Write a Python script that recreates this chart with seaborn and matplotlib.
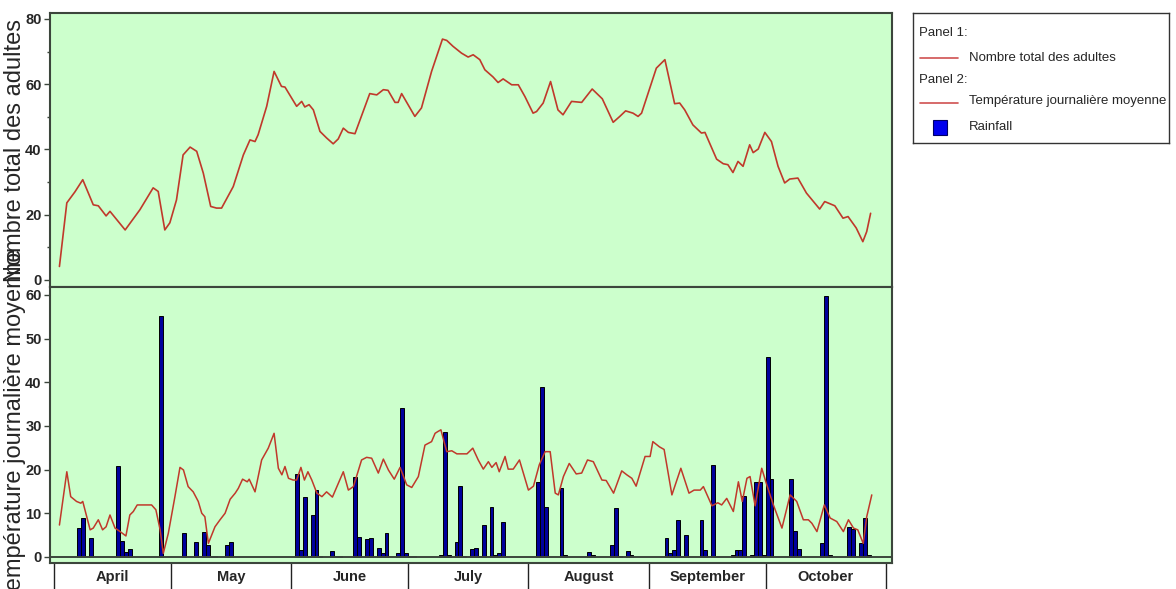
import matplotlib
matplotlib.use("Agg")
import matplotlib.pyplot as plt
from matplotlib import font_manager
from matplotlib.patches import Rectangle
import numpy as np
import seaborn as sns

# x axis: days counted from 1 April
months = ["April", "May", "June", "July", "August", "September", "October"]
month_len = [30, 31, 30, 31, 31, 30, 31]

# panel 1: total adults
adult_day = [1.4, 3.3, 5.4, 7.4, 10.1, 11.4, 13.4, 14.4, 18.3, 22.1, 25.5, 26.8, 28.5,
             29.8, 31.5, 33.2, 35.0, 36.7, 38.4, 40.3, 41.8, 43.1, 46.1, 48.7, 50.4,
             51.7, 52.5, 54.7, 56.6, 58.5, 59.4, 62.4, 63.7, 64.5, 65.6, 66.7, 68.4,
             70.1, 71.8, 73.1, 74.4, 75.7, 77.4, 81.2, 83.0, 84.7, 85.9, 87.7, 88.5,
             89.4, 92.8, 94.5, 97.1, 99.9, 101.0, 102.6, 104.8, 106.5, 107.8, 109.5,
             110.8, 112.9, 114.2, 115.5, 117.7, 119.4, 121.1, 123.2, 124.1, 125.8,
             127.7, 129.6, 130.9, 133.1, 135.7, 138.4, 141.0, 143.8, 145.5, 147.0,
             148.9, 150.2, 151.1, 154.9, 157.1, 159.6, 160.9, 162.2, 164.3, 166.5,
             167.4, 170.4, 172.1, 173.3, 174.6, 175.9, 177.2, 178.9, 179.8, 181.1,
             182.8, 184.5, 186.2, 187.9, 189.2, 191.3, 193.5, 196.9, 198.2, 200.8,
             202.9, 204.2, 206.3, 208.0, 209.0, 210.0]
adult_count = [4.1, 23.6, 27.0, 30.7, 23.0, 22.7, 19.6, 21.0, 15.3, 21.5, 28.2, 27.1, 15.3,
               17.5, 24.5, 38.3, 40.7, 39.4, 32.7, 22.5, 22.0, 22.0, 28.6, 38.3, 42.9,
               42.4, 44.5, 53.2, 63.9, 59.3, 59.1, 53.2, 54.7, 53.0, 53.7, 52.1, 45.5,
               43.5, 41.7, 43.2, 46.5, 45.2, 44.8, 57.1, 56.7, 58.3, 58.1, 54.4, 54.4,
               57.1, 50.1, 52.7, 63.9, 73.8, 73.4, 71.6, 69.5, 68.3, 69.0, 67.5,
               64.4, 62.2, 60.5, 61.6, 59.8, 59.8, 56.2, 51.1, 51.6, 54.2,
               60.8, 52.1, 50.6, 54.7, 54.4, 58.5, 55.5, 48.3, 50.1, 51.8,
               51.1, 50.1, 51.1, 64.9, 67.5, 54.0, 54.2, 52.1, 47.5, 45.0,
               45.2, 37.0, 35.6, 35.3, 32.9, 36.3, 34.8, 41.4, 39.0, 40.1,
               45.2, 42.4, 34.8, 29.7, 30.9, 31.2, 26.6, 21.7, 24.0, 22.7,
               18.9, 19.4, 15.9, 11.7, 14.8, 20.4]

# panel 2: mean daily temperature
temp_day = [1.4, 3.3, 4.3, 5.8, 6.9, 7.4, 9.3, 10.1, 11.4, 12.5, 13.4, 14.4, 15.7, 17.0,
            18.5, 19.5, 20.4, 21.4, 25.1, 26.2, 27.3, 28.1, 29.4, 31.1, 32.4, 33.3,
            34.5, 35.8, 37.1, 38.0, 38.8, 39.7, 41.4, 42.7, 44.0, 45.3, 46.6, 47.4,
            48.5, 49.7, 50.2, 51.7, 53.4, 55.1, 56.6, 57.7, 58.6, 59.4, 60.3, 61.5,
            62.4, 63.5, 64.4, 65.3, 66.3, 67.6, 68.9, 70.1, 71.6, 74.4, 75.7, 77.0,
            79.1, 80.4, 81.7, 83.4, 84.7, 86.0, 87.5, 89.0, 90.7, 92.0, 93.7, 95.4,
            97.1, 98.0, 98.7, 99.5, 101.0, 102.3, 103.6, 106.2, 107.7, 109.1, 110.4,
            111.7, 112.6, 113.7, 114.5, 116.0, 116.8, 118.1, 119.7, 122.0, 123.3,
            124.8, 126.3, 127.6, 128.9, 129.7, 131.0, 132.5, 134.3, 135.7, 137.2,
            138.7, 140.9, 142.0, 143.9, 146.0, 147.3, 148.6, 149.7, 152.0, 153.3,
            154.0, 155.7, 156.9, 158.9, 161.2, 163.3, 164.6, 166.2, 167.0, 169.2,
            170.7, 171.7, 173.0, 174.7, 176.0, 177.0, 178.2, 179.0, 180.3, 182.0,
            183.3, 185.0, 187.2, 189.3, 191.0, 192.7, 194.0, 194.9, 196.2, 198.1,
            199.6, 201.3, 203.0, 204.3, 205.6, 206.7, 208.1, 209.0, 210.3]
temp_c = [7.3, 19.5, 13.8, 12.7, 12.3, 12.7, 6.2, 6.6, 8.5, 6.2, 6.9, 9.6, 6.6, 5.8,
          4.8, 9.6, 10.4, 11.9, 11.9, 10.8, 6.2, 0.8, 5.4, 13.8, 20.5, 19.9,
          16.1, 14.9, 12.7, 10.0, 9.2, 3.1, 6.9, 8.5, 10.0, 13.2, 14.6, 15.7,
          17.8, 17.2, 17.8, 14.9, 22.2, 24.9, 28.3, 20.3, 18.8, 20.7, 18.0, 17.6,
          17.6, 20.5, 17.6, 19.5, 17.6, 14.6, 13.8, 14.9, 13.7, 19.5, 15.3, 16.1,
          22.2, 22.8, 22.6, 19.2, 22.4, 19.9, 17.8, 20.5, 16.5, 15.9, 18.4, 25.6,
          26.4, 28.3, 28.7, 29.1, 24.1, 24.3, 23.6, 23.6, 24.9, 22.2, 20.1,
          21.8, 20.5, 21.6, 19.5, 23.0, 20.1, 20.1, 22.2, 15.3, 16.2,
          21.1, 24.1, 24.1, 14.6, 14.2, 18.4, 21.4, 19.0, 19.2, 22.2,
          21.8, 17.6, 17.5, 14.6, 19.7, 18.8, 18.0, 16.2, 23.0, 23.0,
          26.4, 25.2, 24.6, 14.2, 20.3, 14.6, 15.3, 15.3, 16.1, 11.7,
          12.4, 11.9, 13.4, 10.4, 17.2, 12.7, 18.0, 18.4, 11.7, 20.3,
          16.5, 11.9, 6.6, 14.2, 12.7, 8.5, 8.5, 7.7, 5.8, 11.9,
          8.9, 8.1, 5.8, 8.5, 6.6, 6.2, 3.1, 9.2, 14.2]

# panel 2: daily rainfall (day index, 0 = 1 April)
rain_day = [6, 7, 9, 16, 17, 18, 19, 27, 33, 36, 38, 39, 40, 41, 44, 45,
            62, 63, 64, 65, 66, 67, 68, 71, 72, 73, 77, 78, 80, 81, 83, 84, 85,
            88, 89, 90, 91, 92, 99, 100, 101, 103, 104, 105, 107, 108, 109, 110,
            112, 113, 114, 115, 124, 125, 126, 130, 131, 137, 138, 143, 144, 145,
            147, 148, 157, 158, 159, 160, 161, 162, 166, 167, 169, 170, 174, 175,
            176, 177, 179, 180, 181, 182, 183, 184, 189, 190, 191, 197, 198, 199,
            204, 205, 207, 208, 209]
rain_mm = [6.6, 8.9, 4.3, 20.8, 3.7, 1.2, 1.8, 55.2, 5.4, 3.4, 5.6, 2.7, 0.3, 0.3, 2.7, 3.4,
           18.9, 1.6, 13.8, 0.3, 9.6, 15.3, 0.3, 1.4, 0.3, 0.3, 18.2, 4.6, 4.0, 4.4, 2.1, 0.8, 5.4,
           1.0, 34.0, 1.0, 0.3, 0.3, 0.5, 28.5, 0.5, 3.4, 16.2, 0.3, 1.8, 2.1, 0.3, 7.3,
           11.5, 0.5, 1.0, 7.9, 17.2, 38.8, 11.5, 15.7, 0.4, 1.1, 0.4, 2.7, 11.1, 0.3,
           1.4, 0.4, 4.3, 1.0, 1.6, 8.5, 0.3, 5.0, 8.5, 1.6, 21.1, 0.3, 0.4, 1.6,
           1.6, 14.0, 0.4, 17.2, 17.2, 0.4, 45.8, 17.8, 17.8, 6.0, 1.8, 3.1, 59.8, 0.4,
           6.9, 6.3, 3.1, 8.9, 0.4]

bg = "#ccffcc"
line_col = "#c0392b"
bar_col = "#00009c"
frame_col = "#3c463c"

sns.set_theme(style="ticks")
names = {f.name for f in font_manager.fontManager.ttflist}
narrow = "Liberation Sans Narrow" in names
plt.rcParams["font.family"] = ["Liberation Sans Narrow" if narrow else "Liberation Sans", "DejaVu Sans"]
tick_size = 12 if narrow else 10.5
leg_size = 11.5 if narrow else 9.5

fig = plt.figure(figsize=(11.76, 5.89), dpi=100)
ax1 = fig.add_axes([0.0425, 0.5127, 0.716, 0.4652])
ax2 = fig.add_axes([0.0425, 0.0441, 0.716, 0.4686])

edges = np.concatenate([[0], np.cumsum(month_len)])
mids = edges[:-1] + np.array(month_len) / 2

# panel 1
sns.lineplot(x=adult_day, y=adult_count, ax=ax1, color=line_col, lw=1.2,
             estimator=None, sort=False)
ax1.set_ylim(-2.2, 81.8)
ax1.set_yticks([0, 20, 40, 60, 80])
ax1.set_yticks(np.arange(10, 80, 20), minor=True)
ax1.set_xticks([])

# panel 2
sns.barplot(x=np.array(rain_day) + 0.5, y=rain_mm, ax=ax2, native_scale=True, width=1,
            color=bar_col, saturation=1, edgecolor="black", linewidth=0.7, errorbar=None)
sns.lineplot(x=temp_day, y=temp_c, ax=ax2, color=line_col, lw=1.1,
             estimator=None, sort=False)
ax2.axhline(0, color=frame_col, lw=1.4, zorder=1)
ax2.set_ylim(-1.4, 61.8)
ax2.set_yticks(np.arange(0, 61, 10))
ax2.set_xticks(mids)
ax2.set_xticklabels(months)
ax2.set_xticks(edges, minor=True)
ax2.tick_params(axis="x", which="major", length=0, pad=5)
ax2.tick_params(axis="x", which="minor", length=22, width=1, color="#222222")

for ax in (ax1, ax2):
    ax.set_facecolor(bg)
    ax.set_xlim(-1.03, 215.5)
    ax.set_xlabel("")
    for s in ax.spines.values():
        s.set_visible(True)
        s.set_color(frame_col)
        s.set_linewidth(1.5)
    ax.tick_params(axis="y", which="major", length=4, width=1, color=frame_col, pad=2)
    ax.tick_params(axis="y", which="minor", length=2.5, width=1, color=frame_col)
    for t in ax.get_yticklabels() + ax.get_xticklabels():
        t.set_fontweight("bold")
        t.set_fontsize(tick_size)

ax1.set_ylabel("Nombre total des adultes", fontsize=17, family="Liberation Sans")
ax2.set_ylabel("Température journalière moyenne", fontsize=17, family="Liberation Sans")
ax1.yaxis.set_label_coords(-0.028, 0.5)
ax2.yaxis.set_label_coords(-0.028, 0.5)

# legend box
lg = fig.add_axes([913 / 1176, 1 - 143 / 589, 256 / 1176, 130 / 589])
lg.set_xlim(0, 256)
lg.set_ylim(130, 0)
lg.set_xticks([])
lg.set_yticks([])
lg.set_facecolor("white")
for s in lg.spines.values():
    s.set_color("#333333")
    s.set_linewidth(1)
lg.text(6, 20, "Panel 1:", fontsize=leg_size, va="center")
lg.plot([7, 45], [45, 45], color="#d05050", lw=1.2)
lg.text(56, 45, "Nombre total des adultes", fontsize=leg_size, va="center")
lg.text(6, 67, "Panel 2:", fontsize=leg_size, va="center")
lg.plot([7, 45], [90, 90], color="#d05050", lw=1.2)
lg.text(56, 88, "Température journalière moyenne", fontsize=leg_size, va="center")
lg.add_patch(Rectangle((20, 107), 14, 15, facecolor="#0000ee", edgecolor="#000066", lw=0.8))
lg.text(56, 114, "Rainfall", fontsize=leg_size, va="center")

fig.savefig("out.png", dpi=100)
